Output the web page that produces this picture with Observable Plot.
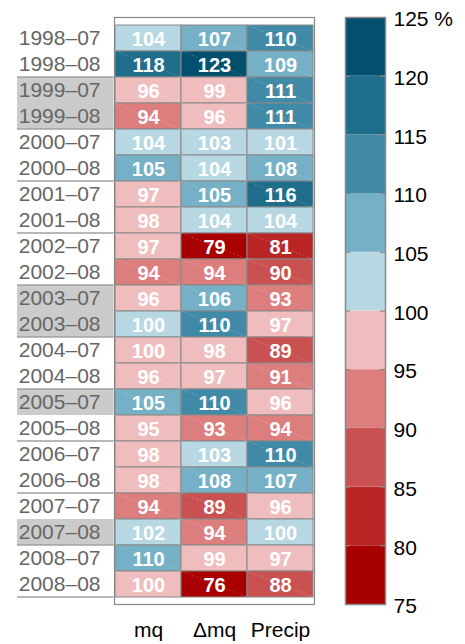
<!DOCTYPE html>
<html>
<head>
<meta charset="utf-8">
<script src="https://cdn.jsdelivr.net/npm/d3@7"></script>
<script src="https://cdn.jsdelivr.net/npm/@observablehq/plot@0.6"></script>
<style>
  html, body { margin: 0; padding: 0; background: #fff; }
  #wrap { display: flex; flex-direction: row; width: 465px; height: 644px; }
  svg { display: block; }
</style>
</head>
<body>
<div id="wrap"></div>
<script>
const rows = ["1998–07","1998–08","1999–07","1999–08","2000–07","2000–08","2001–07","2001–08",
  "2002–07","2002–08","2003–07","2003–08","2004–07","2004–08","2005–07","2005–08",
  "2006–07","2006–08","2007–07","2007–08","2008–07","2008–08"];
const columns = ["mq", "Δmq", "Precip"];
const mq     = [104, 118, 96, 94, 104, 105, 97, 98, 97, 94, 96, 100.2, 99.8, 96, 105, 95, 98, 98, 94, 102, 109.6, 99.7];
const dmq    = [107, 123, 99, 96, 103, 104, 105, 104, 79, 94, 106, 110, 98, 97, 110, 93, 103, 108, 89, 94, 99, 76];
const precip = [110, 109, 111, 111, 101, 108, 116, 104, 81, 89.7, 93, 97, 89, 91, 96, 94, 110, 107, 96, 100.1, 97, 88];
const highlighted = ["1999–07","1999–08","2003–07","2003–08","2005–07","2007–08"];
const thresholds = [80, 85, 90, 95, 100, 105, 110, 115, 120];
const palette = ["#a80000","#b92525","#c95151","#dc7e7e","#efbdbd","#b7d7e3","#75b0c6","#408aa8","#1d6d8b","#03506e"];
const legendTicks = [75, 80, 85, 90, 95, 100, 105, 110, 115, 120, 125];

const series = [mq, dmq, precip];
const cells = rows.flatMap((row, i) => columns.map((col, j) => ({row, col, value: series[j][i]})));

const colorSpec = {type: "threshold", domain: thresholds, range: palette};
const font = "'Liberation Sans', Arial, Helvetica, sans-serif";

// Row-label decorations (gray highlight boxes + year separators), positioned from the y scale
function rowDecor(index, scales, values, dimensions) {
  const ns = "http://www.w3.org/2000/svg";
  const g = document.createElementNS(ns, "g");
  const y = scales.y;
  const bw = y.bandwidth ? y.bandwidth() : (dimensions.height - dimensions.marginTop - dimensions.marginBottom) / rows.length;
  const x0 = dimensions.marginLeft - 97, x1 = dimensions.marginLeft - 0.5;
  for (const r of highlighted) {
    const rect = document.createElementNS(ns, "rect");
    rect.setAttribute("x", x0); rect.setAttribute("y", y(r));
    rect.setAttribute("width", x1 - x0); rect.setAttribute("height", bw);
    rect.setAttribute("fill", "#cbcbcb");
    g.appendChild(rect);
  }
  for (const r of rows.filter(r => r.endsWith("08"))) {
    const line = document.createElementNS(ns, "line");
    const yy = y(r) + bw;
    line.setAttribute("x1", x0); line.setAttribute("x2", x1);
    line.setAttribute("y1", yy); line.setAttribute("y2", yy);
    line.setAttribute("stroke", "#a0a0a0"); line.setAttribute("stroke-width", 1.5);
    g.appendChild(line);
  }
  return g;
}

// faint dashed diagonal in each cell
function cellDiagonals(index, scales, values, dimensions) {
  const ns = "http://www.w3.org/2000/svg";
  const g = document.createElementNS(ns, "g");
  const x = scales.x, y = scales.y;
  const bx = x.bandwidth(), by = y.bandwidth();
  for (const c of cells) {
    const line = document.createElementNS(ns, "line");
    line.setAttribute("x1", x(c.col)); line.setAttribute("y1", y(c.row));
    line.setAttribute("x2", x(c.col) + bx); line.setAttribute("y2", y(c.row) + by);
    line.setAttribute("stroke", "white"); line.setAttribute("stroke-opacity", 0.35);
    line.setAttribute("stroke-width", 0.6); line.setAttribute("stroke-dasharray", "2,2");
    g.appendChild(line);
  }
  return g;
}

const main = Plot.plot({
  width: 330, height: 644,
  marginLeft: 114, marginRight: 16, marginTop: 17, marginBottom: 40,
  style: {fontFamily: font, fontSize: "21px", background: "white"},
  x: {type: "band", domain: columns, padding: 0, label: null},
  y: {type: "band", domain: rows, padding: 0, label: null},
  color: colorSpec,
  marks: [
    rowDecor,
    Plot.cell(cells, {x: "col", y: "row", fill: "value", stroke: "#888", strokeWidth: 1, inset: 0}),
    cellDiagonals,
    Plot.frame({stroke: "#888", strokeWidth: 1.2}),
    Plot.text(cells, {x: "col", y: "row", text: d => String(Math.round(d.value)), fill: "white",
      fontWeight: "bold", fontSize: 20, dy: 1}),
    Plot.axisY({tickSize: 0, tickPadding: 14, color: "#666", fontSize: 21, label: null}),
    Plot.axisX({tickSize: 0, tickPadding: 18, color: "black", fontSize: 21, label: null})
  ]
});

const bar = Plot.plot({
  width: 135, height: 644,
  marginLeft: 15, marginRight: 80, marginTop: 17, marginBottom: 40,
  style: {fontFamily: font, fontSize: "21px", background: "white"},
  y: {domain: [75, 125], label: null},
  color: colorSpec,
  marks: [
    Plot.rect(legendTicks.slice(0, -1), {y1: d => d, y2: d => d + 5, fill: d => d + 2.5}),
    Plot.tickY(legendTicks.slice(1, -1), {y: d => d, stroke: "#888", strokeWidth: 1.2, insetRight: 35}),
    Plot.tickY(legendTicks.slice(1, -1), {y: d => d, stroke: "#888", strokeWidth: 1.2, insetLeft: 35}),
    Plot.frame({stroke: "#888", strokeWidth: 1.5}),
    Plot.axisY(legendTicks, {anchor: "right", tickSize: 0, tickPadding: 8, color: "black", fontSize: 21, dy: 2,
      label: null, tickFormat: d => d === 125 ? "125 %" : String(d)})
  ]
});

const wrap = document.getElementById("wrap");
wrap.appendChild(main);
wrap.appendChild(bar);
</script>
</body>
</html>
